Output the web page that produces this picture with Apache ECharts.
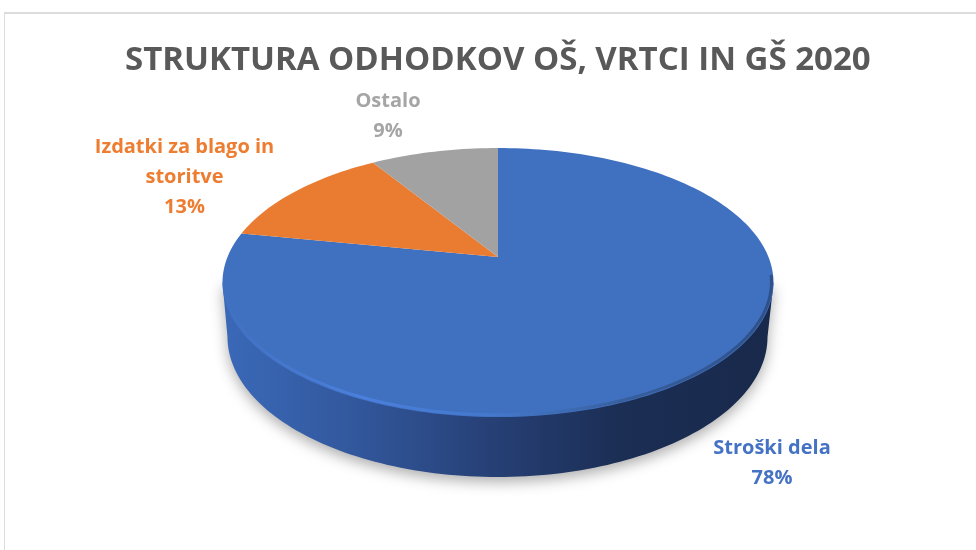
<!DOCTYPE html>
<html>
<head>
<meta charset="utf-8">
<style>html,body{margin:0;padding:0;background:#fff}#c{width:976px;height:550px}</style>
<script src="https://cdn.jsdelivr.net/npm/echarts@6/dist/echarts.min.js"></script>
</head>
<body>
<div id="c"></div>
<script>
const titleText = 'STRUKTURA ODHODKOV OŠ, VRTCI IN GŠ 2020';
const categories = ['Stroški dela', 'Izdatki za blago in\nstoritve', 'Ostalo'];
const values = [78, 13, 9];
const colors = ['#4070C0', '#E97C30', '#A2A2A2'];
const labelColors = ['#4472C4', '#ED7D31', '#A5A5A5'];

// layout of the tilted disc (perspective projection of a circle)
const top3d = {cx: 498, y0: 257, A: 270.5, B: 129.7, p: 0.19};
const bevel3d = {cx: 498, y0: 256.6, A: 268.5, B: 128.2, p: 0.19};
const low3d = {cx: 497.5, y0: 337, A: 270, B: 140, p: 0};
const labelAnchors = [[772, 463], [184.5, 177], [388, 116]];

function rim(d, deg) {
  const t = deg * Math.PI / 180, u = Math.sin(t), v = Math.cos(t), w = 1 + d.p * v;
  return [d.cx + d.A * u / w, d.y0 - d.B * v / w];
}
function arc(d, a, b) {
  const pts = [], n = Math.max(2, Math.ceil(Math.abs(b - a) / 1.5));
  for (let i = 0; i <= n; i++) pts.push(rim(d, a + (b - a) * i / n));
  return pts;
}
const hGrad = stops => ({type: 'linear', x: 0, y: 0, x2: 1, y2: 0,
  colorStops: stops.map(s => ({offset: s[0], color: s[1]}))});

function renderItem(params, api) {
  const i = params.dataIndex, total = values.reduce((a, b) => a + b, 0);
  let before = 0;
  for (let k = 0; k < i; k++) before += values[k];
  const a0 = before / total * 360, a1 = (before + api.value(0)) / total * 360;
  const children = [];
  if (i === 0) {
    const lowFront = arc(low3d, 270, 90);
    children.push({
      type: 'polygon',
      shape: {points: [rim(top3d, 259)].concat(lowFront, [rim(top3d, 101)])},
      style: {
        fill: hGrad([[0, '#3A69B8'], [0.22, '#33599F'], [0.5, '#263F74'], [0.72, '#1B2E54'], [1, '#18294B']]),
        shadowBlur: 14, shadowColor: 'rgba(0,0,0,0.32)', shadowOffsetY: 5
      }
    });
  }
  children.push({
    type: 'polygon',
    shape: {points: [[top3d.cx, top3d.y0]].concat(arc(top3d, a0, a1))},
    style: {fill: colors[i]}
  });
  if (i === 0) {
    children.push({
      type: 'polyline',
      shape: {points: arc(bevel3d, 262, 98)},
      style: {
        fill: 'none', lineWidth: 3,
        stroke: hGrad([[0, '#4070C0'], [0.25, '#4A7FDC'], [0.5, '#4478CC'], [0.72, '#38609E'], [1, '#2F5088']])
      }
    });
  }
  const [lx, ly] = labelAnchors[i];
  children.push({
    type: 'text', x: lx, y: ly,
    style: {
      text: categories[i] + '\n' + api.value(0) + '%',
      fill: labelColors[i],
      font: 'bold 20px "Open Sans"',
      lineHeight: 30, align: 'center', verticalAlign: 'middle'
    }
  });
  return {type: 'group', children};
}

const chart = echarts.init(document.getElementById('c'), null, {renderer: 'canvas'});
chart.setOption({
  animation: false,
  backgroundColor: '#fff',
  title: {
    text: titleText, left: 120, top: 39,
    textStyle: {color: '#595959', fontFamily: 'Open Sans', fontWeight: 'bold', fontSize: 33}
  },
  graphic: [
    {type: 'line', shape: {x1: 4, y1: 13, x2: 976, y2: 13}, style: {stroke: '#dcdcdc', lineWidth: 2}},
    {type: 'line', shape: {x1: 4.5, y1: 13, x2: 4.5, y2: 550}, style: {stroke: '#dcdcdc', lineWidth: 1}}
  ],
  series: [{
    type: 'custom',
    coordinateSystem: 'none',
    renderItem,
    clip: false,
    data: values.map(v => [v])
  }]
});
</script>
</body>
</html>
